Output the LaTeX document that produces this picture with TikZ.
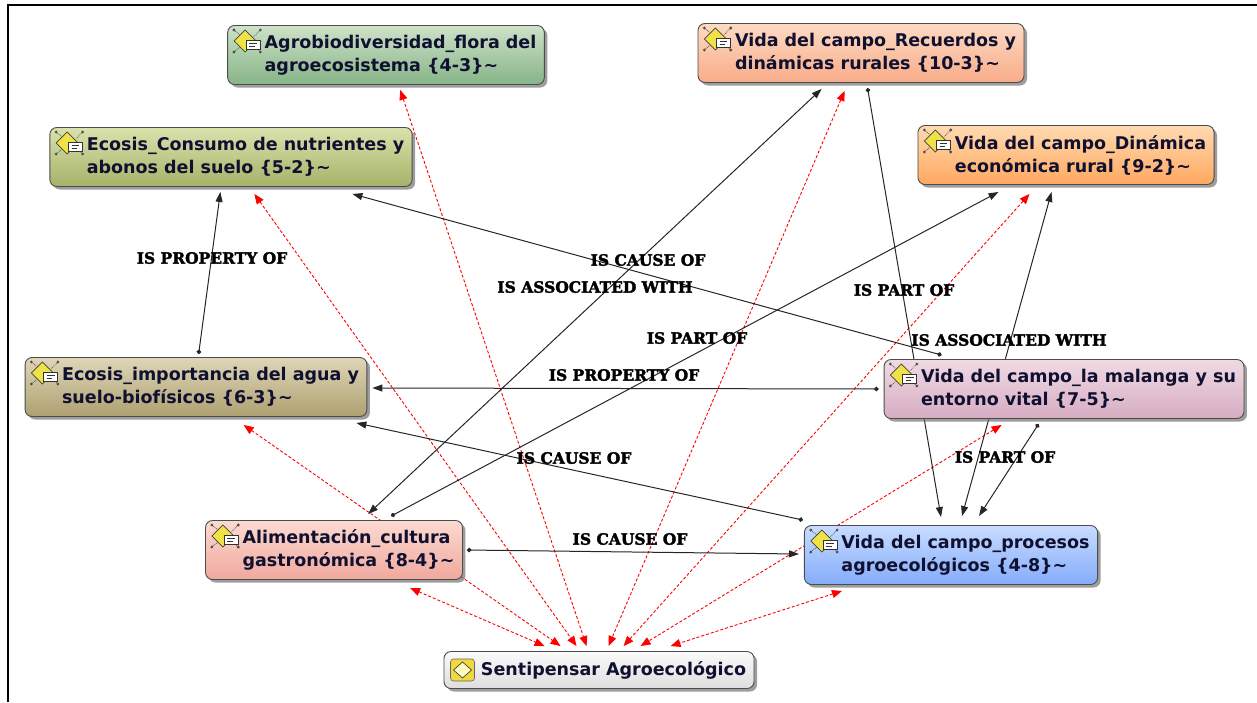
\documentclass[tikz,border=0pt]{standalone}
\usepackage{fontspec}
\setmainfont{DejaVu Sans}
\newfontfamily\relFont{DejaVu Serif}[FakeBold=2.2]
\usetikzlibrary{calc,arrows.meta,shadows,backgrounds}

\definecolor{agroTop}{RGB}{206,226,200}
\definecolor{agroBot}{RGB}{134,180,136}
\definecolor{recTop}{RGB}{253,218,196}
\definecolor{recBot}{RGB}{248,172,136}
\definecolor{conTop}{RGB}{218,226,172}
\definecolor{conBot}{RGB}{166,178,104}
\definecolor{dinTop}{RGB}{255,218,176}
\definecolor{dinBot}{RGB}{255,168,96}
\definecolor{aguaTop}{RGB}{222,214,184}
\definecolor{aguaBot}{RGB}{174,160,112}
\definecolor{malTop}{RGB}{240,218,228}
\definecolor{malBot}{RGB}{214,172,194}
\definecolor{aliTop}{RGB}{252,218,208}
\definecolor{aliBot}{RGB}{240,168,158}
\definecolor{proTop}{RGB}{200,220,255}
\definecolor{proBot}{RGB}{132,172,250}
\definecolor{senTop}{RGB}{250,250,250}
\definecolor{senBot}{RGB}{222,222,222}
\definecolor{iconYellow}{RGB}{238,226,70}
\definecolor{conceptText}{RGB}{16,16,48}

\def\twoLines#1#2{\hspace*{29pt}#1\\\hspace*{29pt}#2}
\def\codeIcon#1{%
\begin{scope}[shift={#1}, scale=1.1]
\draw[densely dotted, line width=0.8pt, black!65] (-12,-10) -- (-5,-4) (12,-10) -- (6,-4) (-12,10) -- (-5,4) (12,10) -- (6,4);
\fill[black!70] (-12,-10) circle[radius=1.4pt] (12,-10) circle[radius=1.4pt] (-12,10) circle[radius=1.4pt] (12,10) circle[radius=1.4pt];
\draw[fill=iconYellow, draw=black!75, line width=0.7pt] (-2,-10) -- (8,0) -- (-2,10) -- (-12,0) -- cycle;
\draw[fill=white, draw=black!80, line width=0.7pt] (-1,-1) rectangle (12,8);
\draw[black!80, line width=0.7pt] (2,2) -- (9,2) (2,5) -- (7,5);
\end{scope}}
\def\kernelIcon#1{%
\begin{scope}[shift={#1}]
\draw[fill=iconYellow!90!orange, draw=black!60, rounded corners=3pt, line width=0.6pt] (-12,-11) rectangle (12,11);
\draw[fill=yellow!25, draw=black!75, line width=0.7pt] (0,-8) -- (9,0) -- (0,8) -- (-9,0) -- cycle;
\end{scope}}

\begin{document}
\begin{tikzpicture}[x=1pt, y=-1pt]
\useasboundingbox (0,0) rectangle (1257,702);

% styles
\tikzstyle{concept}=[rectangle, rounded corners=7pt, draw=black!70, line width=0.9pt, align=left, inner xsep=8pt, minimum height=59pt, text=conceptText, font=\fontsize{17.5}{23}\selectfont\bfseries, drop shadow={shadow xshift=3pt, shadow yshift=-3pt, fill=black!55, opacity=0.7}]
\tikzstyle{conceptAgro}=[concept, top color=agroTop, bottom color=agroBot]
\tikzstyle{conceptRec}=[concept, top color=recTop, bottom color=recBot]
\tikzstyle{conceptCon}=[concept, top color=conTop, bottom color=conBot]
\tikzstyle{conceptDin}=[concept, top color=dinTop, bottom color=dinBot]
\tikzstyle{conceptAgua}=[concept, top color=aguaTop, bottom color=aguaBot]
\tikzstyle{conceptMal}=[concept, top color=malTop, bottom color=malBot]
\tikzstyle{conceptAli}=[concept, top color=aliTop, bottom color=aliBot]
\tikzstyle{conceptPro}=[concept, top color=proTop, bottom color=proBot]
\tikzstyle{conceptSen}=[concept, minimum height=37pt, top color=senTop, bottom color=senBot]

\tikzstyle{textLine}=[text=black, font=\relFont\bfseries\fontsize{15.5}{18}\selectfont, inner sep=0pt]
\tikzstyle{relation}=[{Circle[length=4.5pt]}-{Triangle[length=10pt,width=7pt]}, line width=1pt, black!85]
\tikzstyle{relationBoth}=[{Triangle[length=10pt,width=7pt]}-{Triangle[length=10pt,width=7pt]}, line width=1pt, black!85]
\tikzstyle{linkRed}=[{Triangle[length=10pt,width=8pt]}-{Triangle[length=10pt,width=8pt]}, line width=0.9pt, red, dash pattern=on 3pt off 2pt]

% frame
\draw[line width=2.5pt] (8,702) -- (8,5) -- (1257,5);

% codes
\node[conceptAgro] (agro) at (386,55) {\twoLines{Agrobiodiversidad\_flora del}{agroecosistema \{4-3\}\textasciitilde}};
\node[conceptRec] (recuerdos) at (861,53) {\twoLines{Vida del campo\_Recuerdos y}{dinámicas rurales \{10-3\}\textasciitilde}};
\node[conceptCon] (consumo) at (231,157) {\twoLines{Ecosis\_Consumo de nutrientes y}{abonos del suelo \{5-2\}\textasciitilde}};
\node[conceptDin] (dinamica) at (1066,155) {\twoLines{Vida del campo\_Dinámica}{económica rural \{9-2\}\textasciitilde}};
\node[conceptAgua] (agua) at (196,387) {\twoLines{Ecosis\_importancia del agua y}{suelo-biofísicos \{6-3\}\textasciitilde}};
\node[conceptMal] (malanga) at (1064,389) {\twoLines{Vida del campo\_la malanga y su}{entorno vital \{7-5\}\textasciitilde}};
\node[conceptAli] (alim) at (334,550) {\twoLines{Alimentación\_cultura}{gastronómica \{8-4\}\textasciitilde}};
\node[conceptPro] (procesos) at (951,555) {\twoLines{Vida del campo\_procesos}{agroecológicos \{4-8\}\textasciitilde}};
\node[conceptSen] (senti) at (599,670) {\hspace*{29pt}Sentipensar Agroecológico};

\codeIcon{($(agro.west)+(20,-14)$)}
\codeIcon{($(recuerdos.west)+(20,-14)$)}
\codeIcon{($(consumo.west)+(20,-14)$)}
\codeIcon{($(dinamica.west)+(20,-14)$)}
\codeIcon{($(agua.west)+(20,-14)$)}
\codeIcon{($(malanga.west)+(20,-14)$)}
\codeIcon{($(alim.west)+(20,-14)$)}
\codeIcon{($(procesos.west)+(20,-14)$)}
\kernelIcon{($(senti.west)+(19,0)$)}

\begin{scope}[on background layer]
% red links to the kernel
\draw[linkRed] ([xshift=205pt,yshift=-8pt]alim.south west) -- ([xshift=101pt,yshift=5pt]senti.north west);
\draw[linkRed] ([xshift=219pt,yshift=-8pt]agua.south west) -- ([xshift=117pt,yshift=5pt]senti.north west);
\draw[linkRed] ([xshift=205pt,yshift=-7pt]consumo.south west) -- ([xshift=133pt,yshift=5pt]senti.north west);
\draw[linkRed] ([xshift=173pt,yshift=-5pt]agro.south west) -- ([xshift=143pt,yshift=5pt]senti.north west);
\draw[linkRed] ([xshift=147pt,yshift=-8pt]recuerdos.south west) -- ([xshift=165pt,yshift=5pt]senti.north west);
\draw[linkRed] ([xshift=112pt,yshift=-9pt]dinamica.south west) -- ([xshift=180pt,yshift=5pt]senti.north west);
\draw[linkRed] ([xshift=118pt,yshift=-6pt]malanga.south west) -- ([xshift=197pt,yshift=5pt]senti.north west);
\draw[linkRed] ([xshift=38pt,yshift=-6pt]procesos.south west) -- ([xshift=227pt,yshift=5pt]senti.north west);

% relations
\draw[relation] ([xshift=174pt,yshift=3pt]agua.north west) -- ([xshift=171pt,yshift=-5pt]consumo.south west);
\draw[relation] ([xshift=58pt,yshift=4pt]malanga.north west) -- ([xshift=303pt,yshift=-7pt]consumo.south west);
\draw[relationBoth] ([xshift=163pt,yshift=6pt]alim.north west) -- ([xshift=124pt,yshift=-6pt]recuerdos.south west);
\draw[relation] ([xshift=186pt,yshift=4pt]alim.north west) -- ([xshift=81pt,yshift=-7pt]dinamica.south west);
\draw[relation] ([xshift=170pt,yshift=-5pt]recuerdos.south west) -- ([xshift=137pt,yshift=8pt]procesos.north west);
\draw[relation] ([xshift=-5pt]malanga.west) -- ([xshift=5pt,yshift=-1pt]agua.east);
\draw[relationBoth] ([xshift=134pt,yshift=-7pt]dinamica.south west) -- ([xshift=158pt,yshift=9pt]procesos.north west);
\draw[relation] ([xshift=155pt,yshift=-5pt]malanga.south west) -- ([xshift=175pt,yshift=9pt]procesos.north west);
\draw[relation] ([xshift=-1pt,yshift=5pt]procesos.north west) -- ([xshift=-11pt,yshift=-6pt]agua.south east);
\draw[relation] ([xshift=4pt]alim.east) -- ([xshift=-5pt,yshift=1pt]procesos.west);
\end{scope}

% relation names
\node[textLine] (propConsumo) at (212,258) {IS PROPERTY OF};
\node[textLine] (causeConsumo) at (648,260) {IS CAUSE OF};
\node[textLine] (assocRec) at (595,287) {IS ASSOCIATED WITH};
\node[textLine] (partRec) at (904,290) {IS PART OF};
\node[textLine] (partDin) at (697,338) {IS PART OF};
\node[textLine] (assocDin) at (1009,340) {IS ASSOCIATED WITH};
\node[textLine] (propAgua) at (624,375) {IS PROPERTY OF};
\node[textLine] (causeAgua) at (574,458) {IS CAUSE OF};
\node[textLine] (partPro) at (1005,457) {IS PART OF};
\node[textLine] (causePro) at (630,539) {IS CAUSE OF};

\end{tikzpicture}
\end{document}
